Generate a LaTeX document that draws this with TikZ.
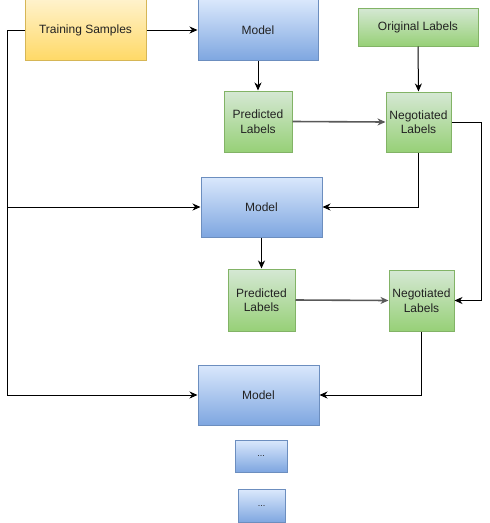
\documentclass[tikz,border=0pt]{standalone}
\usepackage{fontspec}
\setmainfont{Liberation Sans}
\usetikzlibrary{arrows.meta}
\definecolor{ytop}{HTML}{FFF2CC}
\definecolor{ybot}{HTML}{FFD966}
\definecolor{ydraw}{HTML}{D6B656}
\definecolor{btop}{HTML}{DAE8FC}
\definecolor{bbot}{HTML}{7EA6E0}
\definecolor{bdraw}{HTML}{6C8EBF}
\definecolor{gtop}{HTML}{D5E8D4}
\definecolor{gbot}{HTML}{97D077}
\definecolor{gdraw}{HTML}{82B366}
\definecolor{txt}{HTML}{222222}
\tikzset{
  box/.style={draw, line width=1pt, inner sep=0pt, align=center, text=txt,
    font=\fontsize{12}{14.5}\selectfont},
  ybox/.style={box, draw=ydraw, top color=ytop, bottom color=ybot},
  bbox/.style={box, draw=bdraw, top color=btop, bottom color=bbot},
  gbox/.style={box, draw=gdraw, top color=gtop, bottom color=gbot},
  arr/.style={draw=black, line width=1pt, -{Stealth[length=8pt,width=7pt,inset=2.5pt]}},
  garr/.style={draw=black!65, line width=1.6pt, -{Stealth[length=8pt,width=7pt,inset=2.5pt]}}
}
\begin{document}
\begin{tikzpicture}[x=1pt,y=-1pt]
\useasboundingbox (0,0) rectangle (490,523);
\node[ybox, minimum width=121pt, minimum height=61pt] (ts) at (85.5,30) {Training Samples};
\node[bbox, minimum width=120pt, minimum height=61pt] (m1) at (258,30) {Model};
\node[gbox, minimum width=120pt, minimum height=38pt] (ol) at (418,27) {Original Labels};
\node[gbox, minimum width=68pt, minimum height=61pt] (p1) at (258,121.5) {Predicted\\Labels};
\node[gbox, minimum width=65pt, minimum height=60pt] (n1) at (418.5,122) {Negotiated\\Labels};
\node[bbox, minimum width=121pt, minimum height=60pt] (m2) at (261.5,207) {Model};
\node[gbox, minimum width=67pt, minimum height=62pt] (p2) at (261.5,300) {Predicted\\Labels};
\node[gbox, minimum width=65pt, minimum height=61pt] (n2) at (421.5,300.5) {Negotiated\\Labels};
\node[bbox, minimum width=121pt, minimum height=60pt] (m3) at (258.5,395) {Model};
\node[bbox, minimum width=52pt, minimum height=32pt, font=\fontsize{9}{11}\selectfont] (d1) at (261,456) {...};
\node[bbox, minimum width=47pt, minimum height=33pt, font=\fontsize{9}{11}\selectfont] (d2) at (261.5,506) {...};

\draw[arr] (ts.east) -- (m1.west);
\draw[arr] (ts.west) -- ++(-17.5,0) |- (m2.west);
\draw[arr] (ts.west) -- ++(-17.5,0) |- (m3.west);
\draw[arr] (m1.south) -- (p1.north);
\draw[arr] (ol.south) -- (n1.north);
\draw[garr] (p1.east) -- (n1.west);
\draw[arr] (n1.south) |- (m2.east);
\draw[arr] (n1.east) -- ++(30,0) |- (n2.east);
\draw[arr] (m2.south) -- (p2.north);
\draw[garr] (p2.east) -- (n2.west);
\draw[arr] (n2.south) |- (m3.east);
\end{tikzpicture}
\end{document}
